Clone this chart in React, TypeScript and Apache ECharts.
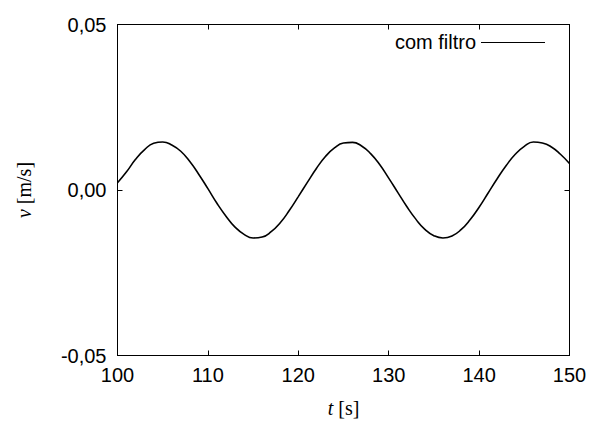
import React, { useEffect, useRef } from "react";
import * as echarts from "echarts";

const times = [
  100, 101, 102, 103, 104, 105, 106, 107, 108, 109,
  110, 111, 112, 113, 114, 115, 116, 117, 118, 119,
  120, 121, 122, 123, 124, 125, 126, 127, 128, 129,
  130, 131, 132, 133, 134, 135, 136, 137, 138, 139,
  140, 141, 142, 143, 144, 145, 146, 147, 148, 149, 150,
];
const velocity = [
  0.0022, 0.0055, 0.0093, 0.0122, 0.0141, 0.0145, 0.0136, 0.0117, 0.0086, 0.0047,
  0.0004, -0.004, -0.0079, -0.0112, -0.0134, -0.0145, -0.0142, -0.0126, -0.0099, -0.0062,
  -0.002, 0.0023, 0.0065, 0.0101, 0.0127, 0.0142, 0.0144, 0.0133, 0.011, 0.0077,
  0.0036, -0.0007, -0.005, -0.0088, -0.0119, -0.0138, -0.0145, -0.0139, -0.012, -0.009,
  -0.0052, -0.0009, 0.0034, 0.0074, 0.0108, 0.0132, 0.0145, 0.0142, 0.013, 0.0108, 0.008,
];
const xTicks = { min: 100, max: 150, interval: 10 };
const yTicks = { min: -0.05, max: 0.05, interval: 0.05 };
const seriesName = "com filtro";
const xName = "{i|t}{n| [s]}";
const yName = "{i|v}{n| [m/s]}";

const sans = "Liberation Sans";
const serif = "Liberation Serif";

export default function App() {
  const ref = useRef<HTMLDivElement>(null);
  useEffect(() => {
    if (!ref.current) return;
    const chart = echarts.init(ref.current, undefined, { renderer: "svg" });
    const axisLine = { show: true, onZero: false, lineStyle: { color: "#000", width: 1 } };
    const tick = { show: true, inside: true, length: 5, lineStyle: { color: "#000", width: 1 } };
    const nameTextStyle = {
      color: "#000",
      fontSize: 20,
      fontFamily: serif,
      rich: {
        i: { fontStyle: "italic", fontSize: 20, fontFamily: serif, color: "#000" },
        n: { fontSize: 20, fontFamily: serif, color: "#000" },
      },
    };
    chart.setOption({
      animation: false,
      backgroundColor: "#fff",
      textStyle: { fontFamily: sans },
      grid: { left: 117.5, right: 24.5, top: 24.5, bottom: 67.5, containLabel: false },
      xAxis: [
        {
          type: "value", position: "bottom", ...xTicks,
          name: xName, nameLocation: "middle", nameGap: 42, nameTextStyle,
          axisLine, axisTick: tick, splitLine: { show: false },
          axisLabel: { color: "#000", fontSize: 20, fontFamily: sans, margin: 9 },
        },
        {
          type: "value", position: "top", ...xTicks,
          axisLine, axisTick: tick, splitLine: { show: false }, axisLabel: { show: false },
        },
      ],
      yAxis: [
        {
          type: "value", position: "left", ...yTicks,
          name: yName, nameLocation: "middle", nameGap: 84, nameTextStyle,
          axisLine, axisTick: tick, splitLine: { show: false },
          axisLabel: {
            color: "#000", fontSize: 20, fontFamily: sans, margin: 11,
            formatter: (v: number) => v.toFixed(2).replace(".", ","),
          },
        },
        {
          type: "value", position: "right", ...yTicks,
          axisLine, axisTick: tick, splitLine: { show: false }, axisLabel: { show: false },
        },
      ],
      series: [
        {
          name: seriesName,
          type: "line",
          xAxisIndex: 0,
          yAxisIndex: 0,
          data: times.map((t, i) => [t, velocity[i]]),
          smooth: true,
          symbol: "none",
          lineStyle: { color: "#000", width: 1.6 },
          itemStyle: { color: "#000" },
        },
      ],
      graphic: [
        {
          type: "text",
          x: 476,
          y: 42,
          style: {
            text: seriesName,
            align: "right",
            verticalAlign: "middle",
            fill: "#000",
            fontSize: 20,
            fontFamily: sans,
          },
        },
        {
          type: "line",
          shape: { x1: 481, y1: 42.5, x2: 545, y2: 42.5 },
          style: { stroke: "#000", lineWidth: 1 },
        },
      ],
    });
    return () => chart.dispose();
  }, []);
  return <div ref={ref} style={{ width: 594, height: 423, position: "absolute", left: 0, top: 0 }} />;
}
